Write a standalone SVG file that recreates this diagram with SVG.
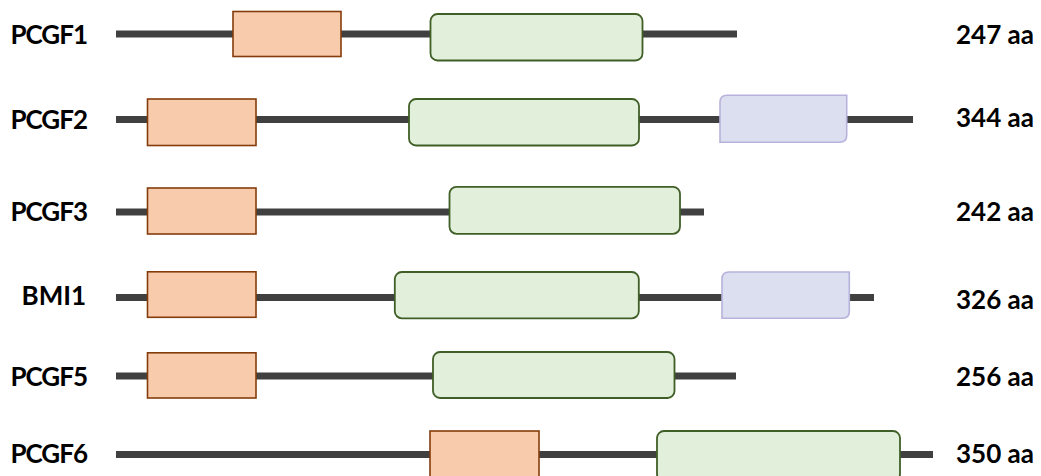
<svg xmlns="http://www.w3.org/2000/svg" width="1041" height="476" viewBox="0 0 1041 476">
<style>
.bb{stroke:#404040;stroke-width:7;fill:none}
.ring{fill:#f8cbad;stroke:#843c0c;stroke-width:1.6}
.rawul{fill:#e2efda;stroke:#3f5f27;stroke-width:1.8}
.vef{fill:#dcdff0;stroke:#b6b2dc;stroke-width:1.6}
.lab{font-family:Lato,"Open Sans","Liberation Sans",sans-serif;font-weight:bold;font-size:26px;fill:#000}
.nm{text-anchor:end}
.tight{letter-spacing:-1px}
</style>
<rect width="1041" height="476" fill="#fff"/>
<g id="backbones">
<line class="bb" x1="116" y1="34" x2="737" y2="34"/>
<line class="bb" x1="116" y1="119.5" x2="913" y2="119.5"/>
<line class="bb" x1="116" y1="212" x2="704" y2="212"/>
<line class="bb" x1="116" y1="297.5" x2="874" y2="297.5"/>
<line class="bb" x1="116" y1="376" x2="736" y2="376"/>
<line class="bb" x1="116" y1="454.5" x2="933" y2="454.5"/>
</g>
<g id="PCGF1">
<text class="lab nm tight" x="87" y="44">PCGF1</text>
<rect class="ring" x="233" y="11.5" width="108" height="45"/>
<rect class="rawul" x="430.5" y="14" width="212" height="46.5" rx="7"/>
<text class="lab" x="956" y="44">247 aa</text>
</g>
<g id="PCGF2">
<text class="lab nm tight" x="87" y="129">PCGF2</text>
<rect class="ring" x="147.5" y="99" width="108.5" height="46.5"/>
<rect class="rawul" x="409" y="99" width="230" height="46.5" rx="7"/>
<path class="vef" d="M720,142.3 V102.3 Q720,95.3 727,95.3 H846.7 V135.3 Q846.7,142.3 839.7,142.3 Z"/>
<text class="lab" x="956" y="127">344 aa</text>
</g>
<g id="PCGF3">
<text class="lab nm tight" x="87" y="221">PCGF3</text>
<rect class="ring" x="147.5" y="188" width="108.5" height="46"/>
<rect class="rawul" x="449.5" y="186.8" width="230.5" height="47" rx="7"/>
<text class="lab" x="956" y="221">242 aa</text>
</g>
<g id="BMI1">
<text class="lab nm" x="86" y="305">BMI1</text>
<rect class="ring" x="147.5" y="271.8" width="108.5" height="45.5"/>
<rect class="rawul" x="394.8" y="272" width="244" height="46.3" rx="7"/>
<path class="vef" d="M722,318.3 V279 Q722,272 729,272 H849.3 V311.3 Q849.3,318.3 842.3,318.3 Z"/>
<text class="lab" x="956" y="309">326 aa</text>
</g>
<g id="PCGF5">
<text class="lab nm tight" x="87" y="386">PCGF5</text>
<rect class="ring" x="147.5" y="352.8" width="108.5" height="45.2"/>
<rect class="rawul" x="433" y="352" width="241.5" height="46" rx="7"/>
<text class="lab" x="956" y="386">256 aa</text>
</g>
<g id="PCGF6">
<text class="lab nm tight" x="87" y="463">PCGF6</text>
<rect class="ring" x="430" y="431" width="109" height="50"/>
<rect class="rawul" x="657" y="431" width="243" height="50" rx="7"/>
<text class="lab" x="956" y="463">350 aa</text>
</g>
</svg>
